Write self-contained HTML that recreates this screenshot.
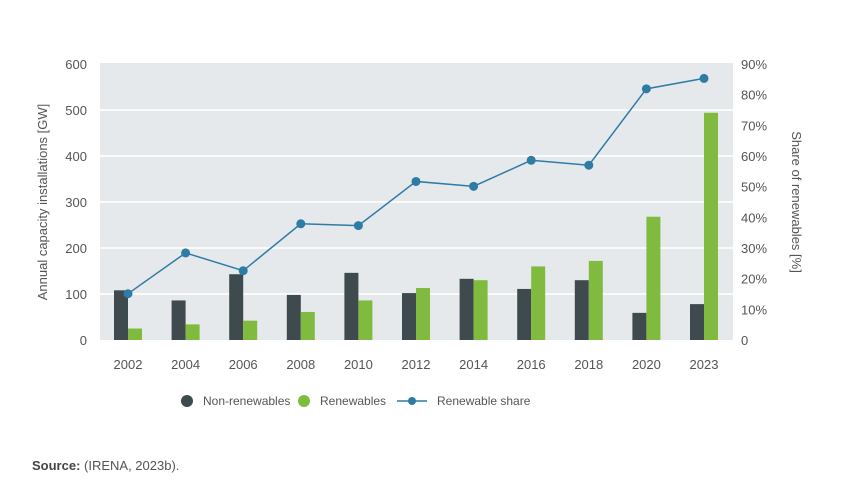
<!DOCTYPE html>
<html><head><meta charset="utf-8"><style>
body{margin:0;background:#fff;font-family:"Liberation Sans",sans-serif;}
svg text{font-family:"Liberation Sans",sans-serif;fill:#555;}
</style></head><body>
<svg id="chart" width="853" height="480" viewBox="0 0 853 480">
<rect x="100" y="63" width="633" height="277" fill="#e6e9ec"/>
<g id="grid"></g><g id="bars"></g><g id="line"></g><g id="axes"></g>
<text transform="translate(47,202) rotate(-90)" text-anchor="middle" font-size="13">Annual capacity installations [GW]</text>
<text transform="translate(792,202) rotate(90)" text-anchor="middle" font-size="13">Share of renewables [%]</text>
<g>
<circle cx="187" cy="401" r="6" fill="#3f4a4e"/>
<text x="203" y="405" font-size="12">Non-renewables</text>
<circle cx="304" cy="401" r="6" fill="#80bb3f"/>
<text x="320" y="405" font-size="12">Renewables</text>
<line x1="397" y1="401" x2="427" y2="401" stroke="#2e7ba6" stroke-width="1.5"/>
<circle cx="412" cy="401" r="4" fill="#2e7ba6"/>
<text x="437" y="405" font-size="12">Renewable share</text>
</g>
<text x="32" y="470" font-size="13"><tspan font-weight="bold" style="fill:#444">Source:</tspan> (IRENA, 2023b).</text>
</svg>
<script>
const categories=["2002","2004","2006","2008","2010","2012","2014","2016","2018","2020","2023"];
const nonRenewables=[108,86,143,98,146,102,133,111,130,59,78];
const renewables=[25,34,42,61,86,113,130,160,172,268,494];
const share=[15.1,28.4,22.6,37.9,37.3,51.7,50.1,58.6,57,81.9,85.3];
const leftTicks=[0,100,200,300,400,500,600];
const rightTicks=[0,10,20,30,40,50,60,70,80,90];
const NS="http://www.w3.org/2000/svg";
const y0=340,yTop=64;
function yL(v){return y0-(v/600)*(y0-yTop);}
function yR(v){return y0-(v/90)*(y0-yTop);}
function xC(i){return 128+i*57.6;}
function mk(tag,attrs,parent){const e=document.createElementNS(NS,tag);for(const k in attrs)e.setAttribute(k,attrs[k]);document.getElementById(parent).appendChild(e);return e;}
leftTicks.forEach(t=>{
 if(t>0&&t<600){const g=mk('line',{x1:100,x2:733,y1:yL(t),y2:yL(t),stroke:'#fff','stroke-width':1.5},'grid');
 
 }
 const tx=mk('text',{x:87,y:yL(t)+5,'text-anchor':'end','font-size':13},'axes');tx.textContent=t;
 
 
});
rightTicks.forEach(t=>{
 const tx=mk('text',{x:741,y:yR(t)+5,'font-size':13},'axes');tx.textContent=t===0?'0':t+'%';
 
 
});
categories.forEach((c,i)=>{
 const x=xC(i);
 const a=mk('rect',{x:x-14,y:yL(nonRenewables[i]),width:14,height:y0-yL(nonRenewables[i]),fill:'#3f4a4e'},'bars');
 
 
 const b=mk('rect',{x:x,y:yL(renewables[i]),width:14,height:y0-yL(renewables[i]),fill:'#80bb3f'},'bars');
 
 
 const tx=mk('text',{x:x,y:369,'text-anchor':'middle','font-size':13},'axes');tx.textContent=c;
 
 
});
const pl=mk('polyline',{points:share.map((v,i)=>xC(i)+','+yR(v)).join(' '),fill:'none',stroke:'#2e7ba6','stroke-width':1.5},'line');


share.forEach((v,i)=>{
 const p=mk('circle',{cx:xC(i),cy:yR(v),r:4.5,fill:'#2e7ba6'},'line');
 
 
});
</script>
</body></html>
